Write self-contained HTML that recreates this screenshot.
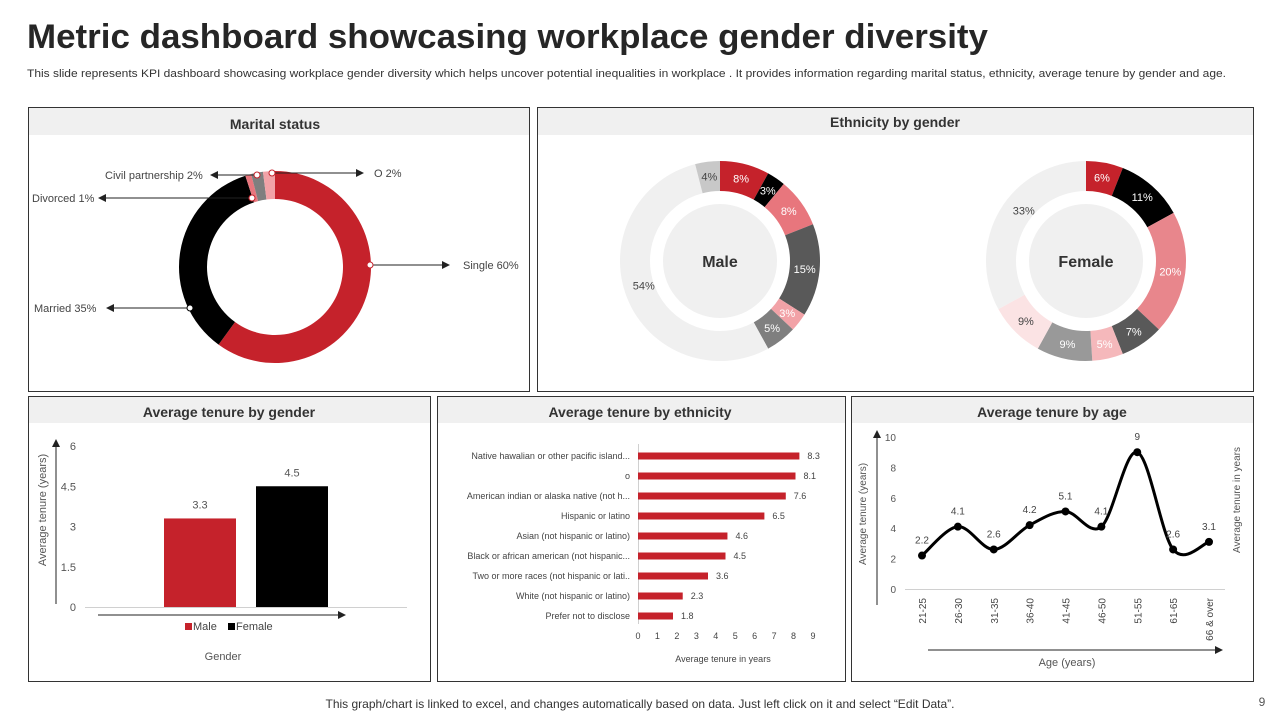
<!DOCTYPE html>
<html><head><meta charset="utf-8"><style>
html,body{margin:0;padding:0;background:#fff;}
svg{display:block;font-family:"Liberation Sans",Arial,sans-serif;}
</style></head><body>
<svg id="s" width="1280" height="720" viewBox="0 0 1280 720" xmlns="http://www.w3.org/2000/svg">
<defs>
<marker id="ar" markerWidth="8" markerHeight="8" refX="7" refY="4" orient="auto" markerUnits="userSpaceOnUse"><path d="M0,0 L8,4 L0,8 z" fill="#222"/></marker>
</defs>
<text x="27" y="48" font-size="34" font-weight="bold" fill="#262626" textLength="961" lengthAdjust="spacingAndGlyphs">Metric dashboard showcasing workplace gender diversity</text>
<text x="27" y="77" font-size="11" fill="#333" textLength="1199" lengthAdjust="spacingAndGlyphs">This slide represents KPI dashboard showcasing workplace gender diversity which helps uncover potential inequalities in workplace . It provides information regarding marital status, ethnicity, average tenure by gender and age.</text>

<g>
<rect x="28.5" y="107.5" width="501" height="284" fill="#fff" stroke="#333"/>
<rect x="29" y="108" width="500" height="27" fill="#f0f0f0"/>
<text x="275" y="129" font-size="14" font-weight="bold" text-anchor="middle" fill="#333">Marital status</text>
</g>
<g>
<rect x="537.5" y="107.5" width="716" height="284" fill="#fff" stroke="#333"/>
<rect x="538" y="108" width="715" height="27" fill="#f0f0f0"/>
<text x="895" y="127" font-size="14" font-weight="bold" text-anchor="middle" fill="#333">Ethnicity by gender</text>
</g>
<g>
<rect x="28.5" y="396.5" width="402" height="285" fill="#fff" stroke="#333"/>
<rect x="29" y="397" width="401" height="26" fill="#f0f0f0"/>
<text x="229" y="417" font-size="14" font-weight="bold" text-anchor="middle" fill="#333">Average tenure by gender</text>
</g>
<g>
<rect x="437.5" y="396.5" width="408" height="285" fill="#fff" stroke="#333"/>
<rect x="438" y="397" width="407" height="26" fill="#f0f0f0"/>
<text x="640" y="417" font-size="14" font-weight="bold" text-anchor="middle" fill="#333">Average tenure by ethnicity</text>
</g>
<g>
<rect x="851.5" y="396.5" width="402" height="285" fill="#fff" stroke="#333"/>
<rect x="852" y="397" width="401" height="26" fill="#f0f0f0"/>
<text x="1052" y="417" font-size="14" font-weight="bold" text-anchor="middle" fill="#333">Average tenure by age</text>
</g>

<g id="marital"></g>
<g id="eth"></g>
<g id="gender"></g>
<g id="ethbar"></g>
<g id="age"></g>

<text x="640" y="708" font-size="12" text-anchor="middle" fill="#333">This graph/chart is linked to excel,  and changes automatically based on data. Just left click on it and select “Edit Data”.</text>
<text x="1262" y="706" font-size="12" text-anchor="middle" fill="#555">9</text>
</svg>
<script>
// ---- data ----
const maritalLabels=["Single","Married","Divorced","Civil partnership","O"];
const maritalValues=[60,35,1,2,2];
const maleValues=[8,3,8,15,3,5,54,4];
const femaleValues=[6,11,20,7,5,9,9,33];
const genderCats=["Male","Female"];
const genderValues=[3.3,4.5];
const genderTicks=[0,1.5,3,4.5,6];
const ethCats=["Native hawalian or other pacific island...","o","American indian or alaska native (not h...","Hispanic or latino","Asian (not hispanic or latino)","Black or african american (not hispanic...","Two or more races (not hispanic or lati..","White (not hispanic or latino)","Prefer not to disclose"];
const ethValues=[8.3,8.1,7.6,6.5,4.6,4.5,3.6,2.3,1.8];
const ethTicks=[0,1,2,3,4,5,6,7,8,9];
const ageCats=["21-25","26-30","31-35","36-40","41-45","46-50","51-55","61-65","66 & over"];
const ageValues=[2.2,4.1,2.6,4.2,5.1,4.1,9,2.6,3.1];
const ageTicks=[0,2,4,6,8,10];

const NS="http://www.w3.org/2000/svg";
function mk(parent,tag,attrs,txt){const e=document.createElementNS(NS,tag);for(const k in attrs)e.setAttribute(k,attrs[k]);if(txt!==undefined)e.textContent=txt;parent.appendChild(e);return e;}
function arc(cx,cy,r0,r1,a0,a1){const p=(r,a)=>[cx+r*Math.sin(a),cy-r*Math.cos(a)];const l=(a1-a0)>Math.PI?1:0;const [x0,y0]=p(r1,a0),[x1,y1]=p(r1,a1),[x2,y2]=p(r0,a1),[x3,y3]=p(r0,a0);return `M${x0},${y0}A${r1},${r1} 0 ${l} 1 ${x1},${y1}L${x2},${y2}A${r0},${r0} 0 ${l} 0 ${x3},${y3}Z`;}

// marital donut
(function(){
const g=document.getElementById('marital');const cx=275,cy=267,R=96,r=68;
const cols=["#c5222b","#000000","#e8767d","#7f7f7f","#f2a2a7"];
const tot=maritalValues.reduce((a,b)=>a+b,0);let a=0;
maritalValues.forEach((v,i)=>{const a1=a+v/tot*2*Math.PI;const p=mk(g,'path',{d:arc(cx,cy,r,R,a,a1),fill:cols[i]});

a=a1;});
// callout layout: [point x, point y, arrow end x, text x]
const lab=[[370,265,449,463],[190,308,107,34],[252,198,99,32],[257,175,211,105],[272,173,363,374]];
maritalValues.forEach((v,i)=>{const L=lab[i];const px=L[0],py=L[1];
mk(g,'line',{x1:px,y1:py,x2:L[2],y2:py,stroke:'#222','stroke-width':1,'marker-end':'url(#ar)'});
mk(g,'circle',{cx:px,cy:py,r:3,fill:'#fff',stroke:i==1?'#000':'#c5222b','stroke-width':1});
const t=mk(g,'text',{x:L[3],y:py+4,'font-size':11,fill:'#444'},maritalLabels[i]+" "+v+"%");

});
})();

// ethnicity donuts
function donut(cx,cy,vals,cols,tcols,name,bigPos){
const g=document.getElementById('eth');const R=100,r=70;const tot=vals.reduce((a,b)=>a+b,0);let a=0;
vals.forEach((v,i)=>{const a1=a+v/tot*2*Math.PI;const p=mk(g,'path',{d:arc(cx,cy,r,R,a,a1),fill:cols[i]});


let m=(a+a1)/2;if(v>25)m=a+(a1-a)*bigPos;const rr=(R+r)/2+(v>25?-5:0);
const t=mk(g,'text',{x:cx+rr*Math.sin(m),y:cy-rr*Math.cos(m)+4,'font-size':11,'text-anchor':'middle',fill:tcols[i]},v+"%");

a=a1;});
const c=mk(g,'circle',{cx:cx,cy:cy,r:57,fill:'#f0f0f0'});


const t=mk(g,'text',{x:cx,y:cy+6,'font-size':16,'font-weight':'bold','text-anchor':'middle',fill:'#333'},name);

}
donut(720,261,maleValues,["#c5222b","#000","#e8767d","#595959","#f2a2a7","#7f7f7f","#f0f0f0","#c8c8c8"],["#fff","#fff","#fff","#fff","#fff","#fff","#444","#444"],"Male",0.52);
donut(1086,261,femaleValues,["#c5222b","#000","#e8868c","#595959","#f5b8bb","#999","#fbe3e4","#f0f0f0"],["#fff","#fff","#fff","#fff","#fff","#fff","#444","#444"],"Female",0.57);

// gender bars
(function(){
const g=document.getElementById('gender');const y0=607,y6=446;const ys=v=>y0-(y0-y6)*v/6;
const xs=[164,256],bw=72,cols=["#c5222b","#000"];
mk(g,'line',{x1:85,y1:y0+0.5,x2:407,y2:y0+0.5,stroke:'#d0d0d0'});
genderTicks.forEach(t=>{const e=mk(g,'text',{x:76,y:ys(t)+4,'font-size':11,'text-anchor':'end',fill:'#555'},t);

});
genderValues.forEach((v,i)=>{const b=mk(g,'rect',{x:xs[i],y:ys(v),width:bw,height:y0-ys(v),fill:cols[i]});


const t=mk(g,'text',{x:xs[i]+bw/2,y:ys(v)-10,'font-size':11,'text-anchor':'middle',fill:'#555'},v);

});
mk(g,'line',{x1:56,y1:604,x2:56,y2:440,stroke:'#222','marker-end':'url(#ar)'});
mk(g,'line',{x1:98,y1:615,x2:345,y2:615,stroke:'#222','marker-end':'url(#ar)'});
const yt=mk(g,'text',{x:0,y:0,'font-size':11,'text-anchor':'middle',fill:'#555',transform:'translate(46,510) rotate(-90)'},'Average tenure (years)');


mk(g,'rect',{x:185,y:623,width:7,height:7,fill:'#c5222b'});
mk(g,'text',{x:193,y:630,'font-size':11,fill:'#444'},'Male');
mk(g,'rect',{x:228,y:623,width:7,height:7,fill:'#000'});
mk(g,'text',{x:236,y:630,'font-size':11,fill:'#444'},'Female');
const xt=mk(g,'text',{x:223,y:660,'font-size':11,'text-anchor':'middle',fill:'#555'},'Gender');


})();

// ethnicity bars
(function(){
const g=document.getElementById('ethbar');const x0=638,x9=813;const xs=v=>x0+(x9-x0)*v/9;
const y0=456,step=20;
mk(g,'line',{x1:x0+0.5,y1:444,x2:x0+0.5,y2:624,stroke:'#d0d0d0'});
ethCats.forEach((c,i)=>{const y=y0+i*step;
const t=mk(g,'text',{x:630,y:y+3,'font-size':9,'text-anchor':'end',fill:'#444'},c);


const b=mk(g,'rect',{x:x0,y:y-3.5,width:xs(ethValues[i])-x0,height:7,fill:'#c5222b'});


const v=mk(g,'text',{x:xs(ethValues[i])+8,y:y+3,'font-size':9,fill:'#444'},ethValues[i]);

});
ethTicks.forEach(t=>{const e=mk(g,'text',{x:xs(t),y:639,'font-size':9,'text-anchor':'middle',fill:'#444'},t);

});
const xt=mk(g,'text',{x:723,y:662,'font-size':9,'text-anchor':'middle',fill:'#444'},'Average tenure in years');


})();

// age line
(function(){
const g=document.getElementById('age');const y0=589,y10=437;const ys=v=>y0-(y0-y10)*v/10;
const xa=922,xb=1209;const xs=i=>xa+(xb-xa)*i/(ageCats.length-1);
mk(g,'line',{x1:905,y1:y0+0.5,x2:1225,y2:y0+0.5,stroke:'#d0d0d0'});
ageTicks.forEach(t=>{const e=mk(g,'text',{x:896,y:ys(t)+4,'font-size':10,'text-anchor':'end',fill:'#555'},t);

});
const pts=ageValues.map((v,i)=>[xs(i),ys(v)]);
let d=`M${pts[0][0]},${pts[0][1]}`;
for(let i=0;i<pts.length-1;i++){const p0=pts[Math.max(0,i-1)],p1=pts[i],p2=pts[i+1],p3=pts[Math.min(pts.length-1,i+2)];const k=1/3;
d+=`C${p1[0]+(p2[0]-p0[0])*k/2},${p1[1]+(p2[1]-p0[1])*k/2} ${p2[0]-(p3[0]-p1[0])*k/2},${p2[1]-(p3[1]-p1[1])*k/2} ${p2[0]},${p2[1]}`;}
const line=mk(g,'path',{d:d,fill:'none',stroke:'#000','stroke-width':3});


pts.forEach((p,i)=>{const c=mk(g,'circle',{cx:p[0],cy:p[1],r:4,fill:'#000'});


const t=mk(g,'text',{x:p[0],y:p[1]-12,'font-size':10,'text-anchor':'middle',fill:'#444'},ageValues[i]);


const c2=mk(g,'text',{x:0,y:0,'font-size':10,'text-anchor':'end',fill:'#444',transform:`translate(${p[0]+4},598) rotate(-90)`},ageCats[i]);

});
mk(g,'line',{x1:877,y1:605,x2:877,y2:431,stroke:'#222','marker-end':'url(#ar)'});
mk(g,'line',{x1:928,y1:650,x2:1222,y2:650,stroke:'#222','marker-end':'url(#ar)'});
const yt=mk(g,'text',{x:0,y:0,'font-size':10,'text-anchor':'middle',fill:'#555',transform:'translate(866,514) rotate(-90)'},'Average tenure (years)');


const yt2=mk(g,'text',{x:0,y:0,'font-size':10,'text-anchor':'middle',fill:'#555',transform:'translate(1240,500) rotate(-90)'},'Average tenure in years');


const xt=mk(g,'text',{x:1067,y:666,'font-size':11,'text-anchor':'middle',fill:'#555'},'Age (years)');


})();
</script>
</body></html>
